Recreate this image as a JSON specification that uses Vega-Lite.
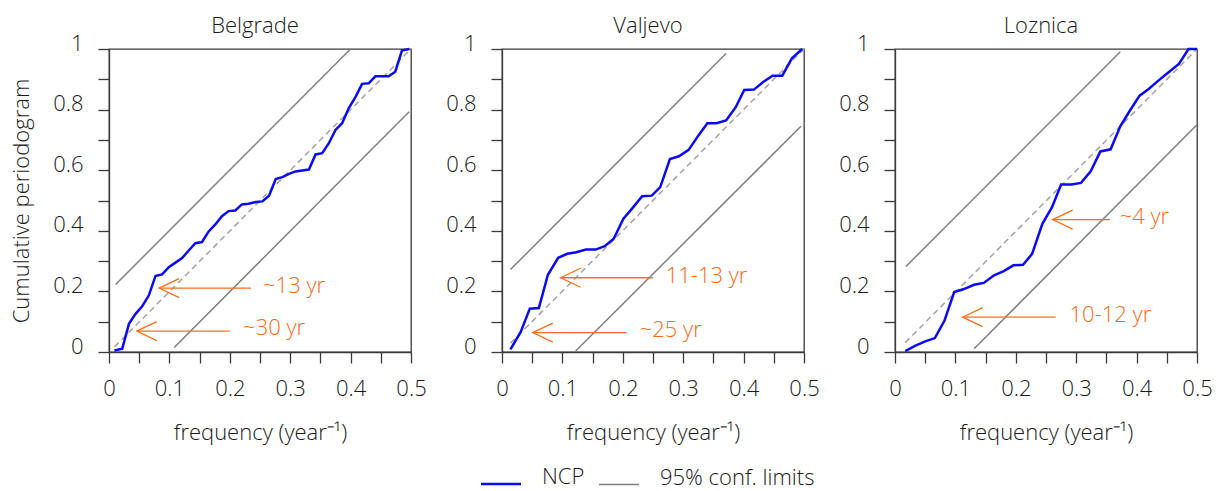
{
  "$schema": "https://vega.github.io/schema/vega-lite/v6.json",
  "padding": {"left": 9, "top": 14, "right": 5, "bottom": 46},
  "bounds": "flush",
  "spacing": 91,
  "datasets": {
    "all": [
      {"city":"Belgrade","kind":"ncp","series":"NCP","f":0.009,"v":0.005},
      {"city":"Belgrade","kind":"ncp","series":"NCP","f":0.022,"v":0.011},
      {"city":"Belgrade","kind":"ncp","series":"NCP","f":0.033,"v":0.093},
      {"city":"Belgrade","kind":"ncp","series":"NCP","f":0.044,"v":0.126},
      {"city":"Belgrade","kind":"ncp","series":"NCP","f":0.055,"v":0.151},
      {"city":"Belgrade","kind":"ncp","series":"NCP","f":0.066,"v":0.187},
      {"city":"Belgrade","kind":"ncp","series":"NCP","f":0.077,"v":0.251},
      {"city":"Belgrade","kind":"ncp","series":"NCP","f":0.088,"v":0.256},
      {"city":"Belgrade","kind":"ncp","series":"NCP","f":0.099,"v":0.280},
      {"city":"Belgrade","kind":"ncp","series":"NCP","f":0.110,"v":0.295},
      {"city":"Belgrade","kind":"ncp","series":"NCP","f":0.121,"v":0.310},
      {"city":"Belgrade","kind":"ncp","series":"NCP","f":0.132,"v":0.335},
      {"city":"Belgrade","kind":"ncp","series":"NCP","f":0.143,"v":0.359},
      {"city":"Belgrade","kind":"ncp","series":"NCP","f":0.154,"v":0.363},
      {"city":"Belgrade","kind":"ncp","series":"NCP","f":0.165,"v":0.398},
      {"city":"Belgrade","kind":"ncp","series":"NCP","f":0.176,"v":0.421},
      {"city":"Belgrade","kind":"ncp","series":"NCP","f":0.187,"v":0.448},
      {"city":"Belgrade","kind":"ncp","series":"NCP","f":0.198,"v":0.465},
      {"city":"Belgrade","kind":"ncp","series":"NCP","f":0.209,"v":0.467},
      {"city":"Belgrade","kind":"ncp","series":"NCP","f":0.220,"v":0.487},
      {"city":"Belgrade","kind":"ncp","series":"NCP","f":0.231,"v":0.489},
      {"city":"Belgrade","kind":"ncp","series":"NCP","f":0.243,"v":0.495},
      {"city":"Belgrade","kind":"ncp","series":"NCP","f":0.254,"v":0.497},
      {"city":"Belgrade","kind":"ncp","series":"NCP","f":0.265,"v":0.516},
      {"city":"Belgrade","kind":"ncp","series":"NCP","f":0.276,"v":0.571},
      {"city":"Belgrade","kind":"ncp","series":"NCP","f":0.287,"v":0.577},
      {"city":"Belgrade","kind":"ncp","series":"NCP","f":0.298,"v":0.588},
      {"city":"Belgrade","kind":"ncp","series":"NCP","f":0.309,"v":0.596},
      {"city":"Belgrade","kind":"ncp","series":"NCP","f":0.320,"v":0.599},
      {"city":"Belgrade","kind":"ncp","series":"NCP","f":0.331,"v":0.602},
      {"city":"Belgrade","kind":"ncp","series":"NCP","f":0.342,"v":0.652},
      {"city":"Belgrade","kind":"ncp","series":"NCP","f":0.353,"v":0.656},
      {"city":"Belgrade","kind":"ncp","series":"NCP","f":0.364,"v":0.689},
      {"city":"Belgrade","kind":"ncp","series":"NCP","f":0.375,"v":0.733},
      {"city":"Belgrade","kind":"ncp","series":"NCP","f":0.386,"v":0.755},
      {"city":"Belgrade","kind":"ncp","series":"NCP","f":0.397,"v":0.805},
      {"city":"Belgrade","kind":"ncp","series":"NCP","f":0.408,"v":0.841},
      {"city":"Belgrade","kind":"ncp","series":"NCP","f":0.419,"v":0.885},
      {"city":"Belgrade","kind":"ncp","series":"NCP","f":0.430,"v":0.887},
      {"city":"Belgrade","kind":"ncp","series":"NCP","f":0.441,"v":0.910},
      {"city":"Belgrade","kind":"ncp","series":"NCP","f":0.452,"v":0.910},
      {"city":"Belgrade","kind":"ncp","series":"NCP","f":0.463,"v":0.910},
      {"city":"Belgrade","kind":"ncp","series":"NCP","f":0.474,"v":0.925},
      {"city":"Belgrade","kind":"ncp","series":"NCP","f":0.485,"v":0.995},
      {"city":"Belgrade","kind":"ncp","series":"NCP","f":0.497,"v":1.0},
      {"city":"Belgrade","kind":"limit","series":"95% conf. limits","grp":"upper","f":0.011,"v":0.223},
      {"city":"Belgrade","kind":"limit","series":"95% conf. limits","grp":"upper","f":0.400,"v":1.0},
      {"city":"Belgrade","kind":"limit","series":"95% conf. limits","grp":"lower","f":0.108,"v":0.015},
      {"city":"Belgrade","kind":"limit","series":"95% conf. limits","grp":"lower","f":0.497,"v":0.793},
      {"city":"Belgrade","kind":"diag","f":0.009,"v":0.017},
      {"city":"Belgrade","kind":"diag","f":0.5,"v":1.0},
      {"city":"Belgrade","kind":"arrow","f":0.083,"f2":0.235,"v":0.211},
      {"city":"Belgrade","kind":"arrow","f":0.046,"f2":0.200,"v":0.069},
      {"city":"Belgrade","kind":"label","f":0.255,"v":0.217,"label":"~13 yr"},
      {"city":"Belgrade","kind":"label","f":0.222,"v":0.080,"label":"~30 yr"},

      {"city":"Valjevo","kind":"ncp","series":"NCP","f":0.014,"v":0.009},
      {"city":"Valjevo","kind":"ncp","series":"NCP","f":0.031,"v":0.066},
      {"city":"Valjevo","kind":"ncp","series":"NCP","f":0.046,"v":0.143},
      {"city":"Valjevo","kind":"ncp","series":"NCP","f":0.061,"v":0.145},
      {"city":"Valjevo","kind":"ncp","series":"NCP","f":0.076,"v":0.255},
      {"city":"Valjevo","kind":"ncp","series":"NCP","f":0.093,"v":0.311},
      {"city":"Valjevo","kind":"ncp","series":"NCP","f":0.108,"v":0.324},
      {"city":"Valjevo","kind":"ncp","series":"NCP","f":0.123,"v":0.329},
      {"city":"Valjevo","kind":"ncp","series":"NCP","f":0.139,"v":0.338},
      {"city":"Valjevo","kind":"ncp","series":"NCP","f":0.155,"v":0.338},
      {"city":"Valjevo","kind":"ncp","series":"NCP","f":0.170,"v":0.349},
      {"city":"Valjevo","kind":"ncp","series":"NCP","f":0.185,"v":0.374},
      {"city":"Valjevo","kind":"ncp","series":"NCP","f":0.201,"v":0.440},
      {"city":"Valjevo","kind":"ncp","series":"NCP","f":0.216,"v":0.475},
      {"city":"Valjevo","kind":"ncp","series":"NCP","f":0.232,"v":0.514},
      {"city":"Valjevo","kind":"ncp","series":"NCP","f":0.248,"v":0.516},
      {"city":"Valjevo","kind":"ncp","series":"NCP","f":0.262,"v":0.544},
      {"city":"Valjevo","kind":"ncp","series":"NCP","f":0.278,"v":0.637},
      {"city":"Valjevo","kind":"ncp","series":"NCP","f":0.293,"v":0.646},
      {"city":"Valjevo","kind":"ncp","series":"NCP","f":0.309,"v":0.667},
      {"city":"Valjevo","kind":"ncp","series":"NCP","f":0.325,"v":0.714},
      {"city":"Valjevo","kind":"ncp","series":"NCP","f":0.340,"v":0.755},
      {"city":"Valjevo","kind":"ncp","series":"NCP","f":0.355,"v":0.755},
      {"city":"Valjevo","kind":"ncp","series":"NCP","f":0.371,"v":0.764},
      {"city":"Valjevo","kind":"ncp","series":"NCP","f":0.387,"v":0.808},
      {"city":"Valjevo","kind":"ncp","series":"NCP","f":0.401,"v":0.865},
      {"city":"Valjevo","kind":"ncp","series":"NCP","f":0.417,"v":0.866},
      {"city":"Valjevo","kind":"ncp","series":"NCP","f":0.433,"v":0.892},
      {"city":"Valjevo","kind":"ncp","series":"NCP","f":0.448,"v":0.912},
      {"city":"Valjevo","kind":"ncp","series":"NCP","f":0.464,"v":0.912},
      {"city":"Valjevo","kind":"ncp","series":"NCP","f":0.480,"v":0.969},
      {"city":"Valjevo","kind":"ncp","series":"NCP","f":0.497,"v":1.0},
      {"city":"Valjevo","kind":"limit","series":"95% conf. limits","grp":"upper","f":0.014,"v":0.272},
      {"city":"Valjevo","kind":"limit","series":"95% conf. limits","grp":"upper","f":0.371,"v":0.985},
      {"city":"Valjevo","kind":"limit","series":"95% conf. limits","grp":"lower","f":0.122,"v":0.003},
      {"city":"Valjevo","kind":"limit","series":"95% conf. limits","grp":"lower","f":0.495,"v":0.745},
      {"city":"Valjevo","kind":"diag","f":0.014,"v":0.029},
      {"city":"Valjevo","kind":"diag","f":0.5,"v":1.0},
      {"city":"Valjevo","kind":"arrow","f":0.097,"f2":0.250,"v":0.245},
      {"city":"Valjevo","kind":"arrow","f":0.051,"f2":0.206,"v":0.064},
      {"city":"Valjevo","kind":"label","f":0.271,"v":0.252,"label":"11-13 yr"},
      {"city":"Valjevo","kind":"label","f":0.228,"v":0.073,"label":"~25 yr"},

      {"city":"Loznica","kind":"ncp","series":"NCP","f":0.017,"v":0.003},
      {"city":"Loznica","kind":"ncp","series":"NCP","f":0.033,"v":0.020},
      {"city":"Loznica","kind":"ncp","series":"NCP","f":0.050,"v":0.035},
      {"city":"Loznica","kind":"ncp","series":"NCP","f":0.066,"v":0.046},
      {"city":"Loznica","kind":"ncp","series":"NCP","f":0.082,"v":0.104},
      {"city":"Loznica","kind":"ncp","series":"NCP","f":0.098,"v":0.198},
      {"city":"Loznica","kind":"ncp","series":"NCP","f":0.113,"v":0.207},
      {"city":"Loznica","kind":"ncp","series":"NCP","f":0.131,"v":0.222},
      {"city":"Loznica","kind":"ncp","series":"NCP","f":0.147,"v":0.228},
      {"city":"Loznica","kind":"ncp","series":"NCP","f":0.164,"v":0.253},
      {"city":"Loznica","kind":"ncp","series":"NCP","f":0.180,"v":0.267},
      {"city":"Loznica","kind":"ncp","series":"NCP","f":0.196,"v":0.286},
      {"city":"Loznica","kind":"ncp","series":"NCP","f":0.212,"v":0.288},
      {"city":"Loznica","kind":"ncp","series":"NCP","f":0.227,"v":0.324},
      {"city":"Loznica","kind":"ncp","series":"NCP","f":0.244,"v":0.423},
      {"city":"Loznica","kind":"ncp","series":"NCP","f":0.260,"v":0.478},
      {"city":"Loznica","kind":"ncp","series":"NCP","f":0.275,"v":0.553},
      {"city":"Loznica","kind":"ncp","series":"NCP","f":0.292,"v":0.553},
      {"city":"Loznica","kind":"ncp","series":"NCP","f":0.308,"v":0.558},
      {"city":"Loznica","kind":"ncp","series":"NCP","f":0.324,"v":0.596},
      {"city":"Loznica","kind":"ncp","series":"NCP","f":0.340,"v":0.662},
      {"city":"Loznica","kind":"ncp","series":"NCP","f":0.357,"v":0.669},
      {"city":"Loznica","kind":"ncp","series":"NCP","f":0.373,"v":0.745},
      {"city":"Loznica","kind":"ncp","series":"NCP","f":0.389,"v":0.797},
      {"city":"Loznica","kind":"ncp","series":"NCP","f":0.405,"v":0.846},
      {"city":"Loznica","kind":"ncp","series":"NCP","f":0.420,"v":0.868},
      {"city":"Loznica","kind":"ncp","series":"NCP","f":0.438,"v":0.899},
      {"city":"Loznica","kind":"ncp","series":"NCP","f":0.453,"v":0.923},
      {"city":"Loznica","kind":"ncp","series":"NCP","f":0.470,"v":0.951},
      {"city":"Loznica","kind":"ncp","series":"NCP","f":0.486,"v":1.0},
      {"city":"Loznica","kind":"ncp","series":"NCP","f":0.500,"v":1.0},
      {"city":"Loznica","kind":"limit","series":"95% conf. limits","grp":"upper","f":0.018,"v":0.282},
      {"city":"Loznica","kind":"limit","series":"95% conf. limits","grp":"upper","f":0.373,"v":0.991},
      {"city":"Loznica","kind":"limit","series":"95% conf. limits","grp":"lower","f":0.131,"v":0.011},
      {"city":"Loznica","kind":"limit","series":"95% conf. limits","grp":"lower","f":0.500,"v":0.750},
      {"city":"Loznica","kind":"diag","f":0.017,"v":0.031},
      {"city":"Loznica","kind":"diag","f":0.5,"v":1.0},
      {"city":"Loznica","kind":"arrow","f":0.261,"f2":0.356,"v":0.437},
      {"city":"Loznica","kind":"arrow","f":0.112,"f2":0.266,"v":0.115},
      {"city":"Loznica","kind":"label","f":0.372,"v":0.444,"label":"~4 yr"},
      {"city":"Loznica","kind":"label","f":0.289,"v":0.123,"label":"10-12 yr"}
    ]
  },
  "hconcat": [
    {
      "width": 302, "height": 303,
      "title": {"text": "Belgrade", "dx": -5},
      "data": {"name": "all"},
      "transform": [{"filter": "datum.city == 'Belgrade'"}],
      "encoding": {
        "x": {"field": "f", "type": "quantitative", "scale": {"domain": [0, 0.5], "nice": false, "zero": false}, "title": "frequency (year⁻¹)",
              "axis": {"values": [0,0.05,0.1,0.15,0.2,0.25,0.3,0.35,0.4,0.45,0.5], "labelExpr": "round(datum.value*20) % 2 == 0 ? format(datum.value, '~g') : ''"}},
        "y": {"field": "v", "type": "quantitative", "scale": {"domain": [0, 1], "nice": false, "zero": false}, "title": "Cumulative periodogram",
              "axis": {"values": [0,0.1,0.2,0.3,0.4,0.5,0.6,0.7,0.8,0.9,1], "labelExpr": "round(datum.value*10) % 2 == 0 ? format(datum.value, '~g') : ''"}}
      },
      "layer": [
        {"transform": [{"filter": "datum.kind == 'diag'"}], "mark": {"type": "line", "color": "#a3a3a3", "strokeDash": [6, 4], "strokeWidth": 1.5}, "encoding": {}},
        {"transform": [{"filter": "datum.kind == 'limit'"}], "mark": {"type": "line", "strokeWidth": 1.5},
         "encoding": {"detail": {"field": "grp"}, "color": {"field": "series", "type": "nominal", "scale": {"domain": ["NCP", "95% conf. limits"], "range": ["#0a0af5", "#7f7f7f"]},
           "legend": {"orient": "none", "legendX": 381, "legendY": 424, "direction": "horizontal", "encode": {"symbols": {"update": {"strokeWidth": {"signal": "datum.value == 'NCP' ? 2.5 : 1.6"}}}}}}}},
        {"transform": [{"filter": "datum.kind == 'ncp'"}], "mark": {"type": "line", "strokeWidth": 2.5},
         "encoding": {"color": {"field": "series", "type": "nominal", "scale": {"domain": ["NCP", "95% conf. limits"], "range": ["#0a0af5", "#7f7f7f"]},
           "legend": {"orient": "none", "legendX": 381, "legendY": 424, "direction": "horizontal", "encode": {"symbols": {"update": {"strokeWidth": {"signal": "datum.value == 'NCP' ? 2.5 : 1.6"}}}}}}}},
        {"transform": [{"filter": "datum.kind == 'arrow'"}], "mark": {"type": "rule", "color": "#fa6e1e", "strokeWidth": 1.3}, "encoding": {"x2": {"field": "f2"}}},
        {"transform": [{"filter": "datum.kind == 'arrow'"}], "mark": {"type": "point", "shape": "M1,-0.475L0,0L1,0.475", "filled": false, "size": 1600, "color": "#fa6e1e", "strokeWidth": 1.3, "opacity": 1}, "encoding": {}},
        {"transform": [{"filter": "datum.kind == 'label'"}], "mark": {"type": "text", "align": "left", "baseline": "middle", "fontSize": 22, "fontWeight": 300, "color": "#f86a18"}, "encoding": {"text": {"field": "label"}}}
      ]
    },
    {
      "width": 302, "height": 303,
      "title": {"text": "Valjevo", "dx": -5},
      "data": {"name": "all"},
      "transform": [{"filter": "datum.city == 'Valjevo'"}],
      "encoding": {
        "x": {"field": "f", "type": "quantitative", "scale": {"domain": [0, 0.5], "nice": false, "zero": false}, "title": "frequency (year⁻¹)",
              "axis": {"values": [0,0.05,0.1,0.15,0.2,0.25,0.3,0.35,0.4,0.45,0.5], "labelExpr": "round(datum.value*20) % 2 == 0 ? format(datum.value, '~g') : ''"}},
        "y": {"field": "v", "type": "quantitative", "scale": {"domain": [0, 1], "nice": false, "zero": false}, "title": null,
              "axis": {"values": [0,0.1,0.2,0.3,0.4,0.5,0.6,0.7,0.8,0.9,1], "labelExpr": "round(datum.value*10) % 2 == 0 ? format(datum.value, '~g') : ''"}}
      },
      "layer": [
        {"transform": [{"filter": "datum.kind == 'diag'"}], "mark": {"type": "line", "color": "#a3a3a3", "strokeDash": [6, 4], "strokeWidth": 1.5}, "encoding": {}},
        {"transform": [{"filter": "datum.kind == 'limit'"}], "mark": {"type": "line", "strokeWidth": 1.5},
         "encoding": {"detail": {"field": "grp"}, "color": {"field": "series", "type": "nominal", "scale": {"domain": ["NCP", "95% conf. limits"], "range": ["#0a0af5", "#7f7f7f"]},
           "legend": {"orient": "none", "legendX": 381, "legendY": 424, "direction": "horizontal", "encode": {"symbols": {"update": {"strokeWidth": {"signal": "datum.value == 'NCP' ? 2.5 : 1.6"}}}}}}}},
        {"transform": [{"filter": "datum.kind == 'ncp'"}], "mark": {"type": "line", "strokeWidth": 2.5},
         "encoding": {"color": {"field": "series", "type": "nominal", "scale": {"domain": ["NCP", "95% conf. limits"], "range": ["#0a0af5", "#7f7f7f"]},
           "legend": {"orient": "none", "legendX": 381, "legendY": 424, "direction": "horizontal", "encode": {"symbols": {"update": {"strokeWidth": {"signal": "datum.value == 'NCP' ? 2.5 : 1.6"}}}}}}}},
        {"transform": [{"filter": "datum.kind == 'arrow'"}], "mark": {"type": "rule", "color": "#fa6e1e", "strokeWidth": 1.3}, "encoding": {"x2": {"field": "f2"}}},
        {"transform": [{"filter": "datum.kind == 'arrow'"}], "mark": {"type": "point", "shape": "M1,-0.475L0,0L1,0.475", "filled": false, "size": 1600, "color": "#fa6e1e", "strokeWidth": 1.3, "opacity": 1}, "encoding": {}},
        {"transform": [{"filter": "datum.kind == 'label'"}], "mark": {"type": "text", "align": "left", "baseline": "middle", "fontSize": 22, "fontWeight": 300, "color": "#f86a18"}, "encoding": {"text": {"field": "label"}}}
      ]
    },
    {
      "width": 302, "height": 303,
      "title": {"text": "Loznica", "dx": -5},
      "data": {"name": "all"},
      "transform": [{"filter": "datum.city == 'Loznica'"}],
      "encoding": {
        "x": {"field": "f", "type": "quantitative", "scale": {"domain": [0, 0.5], "nice": false, "zero": false}, "title": "frequency (year⁻¹)",
              "axis": {"values": [0,0.05,0.1,0.15,0.2,0.25,0.3,0.35,0.4,0.45,0.5], "labelExpr": "round(datum.value*20) % 2 == 0 ? format(datum.value, '~g') : ''"}},
        "y": {"field": "v", "type": "quantitative", "scale": {"domain": [0, 1], "nice": false, "zero": false}, "title": null,
              "axis": {"values": [0,0.1,0.2,0.3,0.4,0.5,0.6,0.7,0.8,0.9,1], "labelExpr": "round(datum.value*10) % 2 == 0 ? format(datum.value, '~g') : ''"}}
      },
      "layer": [
        {"transform": [{"filter": "datum.kind == 'diag'"}], "mark": {"type": "line", "color": "#a3a3a3", "strokeDash": [6, 4], "strokeWidth": 1.5}, "encoding": {}},
        {"transform": [{"filter": "datum.kind == 'limit'"}], "mark": {"type": "line", "strokeWidth": 1.5},
         "encoding": {"detail": {"field": "grp"}, "color": {"field": "series", "type": "nominal", "scale": {"domain": ["NCP", "95% conf. limits"], "range": ["#0a0af5", "#7f7f7f"]},
           "legend": {"orient": "none", "legendX": 381, "legendY": 424, "direction": "horizontal", "encode": {"symbols": {"update": {"strokeWidth": {"signal": "datum.value == 'NCP' ? 2.5 : 1.6"}}}}}}}},
        {"transform": [{"filter": "datum.kind == 'ncp'"}], "mark": {"type": "line", "strokeWidth": 2.5},
         "encoding": {"color": {"field": "series", "type": "nominal", "scale": {"domain": ["NCP", "95% conf. limits"], "range": ["#0a0af5", "#7f7f7f"]},
           "legend": {"orient": "none", "legendX": 381, "legendY": 424, "direction": "horizontal", "encode": {"symbols": {"update": {"strokeWidth": {"signal": "datum.value == 'NCP' ? 2.5 : 1.6"}}}}}}}},
        {"transform": [{"filter": "datum.kind == 'arrow'"}], "mark": {"type": "rule", "color": "#fa6e1e", "strokeWidth": 1.3}, "encoding": {"x2": {"field": "f2"}}},
        {"transform": [{"filter": "datum.kind == 'arrow'"}], "mark": {"type": "point", "shape": "M1,-0.475L0,0L1,0.475", "filled": false, "size": 1600, "color": "#fa6e1e", "strokeWidth": 1.3, "opacity": 1}, "encoding": {}},
        {"transform": [{"filter": "datum.kind == 'label'"}], "mark": {"type": "text", "align": "left", "baseline": "middle", "fontSize": 22, "fontWeight": 300, "color": "#f86a18"}, "encoding": {"text": {"field": "label"}}}
      ]
    }
  ],
  "resolve": {"scale": {"color": "shared"}, "legend": {"color": "shared"}},
  "config": {
    "font": "Open Sans",
    "background": "white",
    "view": {"stroke": "#3a3a3a", "strokeWidth": 1.3},
    "axis": {
      "grid": false,
      "domainColor": "#3a3a3a", "domainWidth": 1.3,
      "tickColor": "#3a3a3a", "tickWidth": 1.3, "tickSize": 11,
      "labelFont": "Open Sans", "labelFontSize": 22, "labelFontWeight": 300, "labelColor": "#1a1a1a", "labelPadding": 15, "labelFlush": false, "labelOverlap": false,
      "titleFont": "Open Sans", "titleFontSize": 22, "titleFontWeight": 300, "titleColor": "#1a1a1a"
    },
    "axisX": {"titlePadding": 23},
    "axisY": {"titlePadding": 19, "labelOffset": -6},
    "title": {"font": "Open Sans", "fontSize": 22, "fontWeight": 300, "color": "#1a1a1a", "frame": "group", "anchor": "middle", "offset": -6},
    "legend": {
      "title": null,
      "symbolType": "stroke", "symbolSize": 1600, "symbolStrokeWidth": 2.5,
      "labelFont": "Open Sans", "labelFontSize": 22, "labelFontWeight": 300, "labelColor": "#1a1a1a", "labelOffset": 30, "columnPadding": 10,
      "labelLimit": 400, "labelBaseline": "alphabetic"
    }
  }
}
